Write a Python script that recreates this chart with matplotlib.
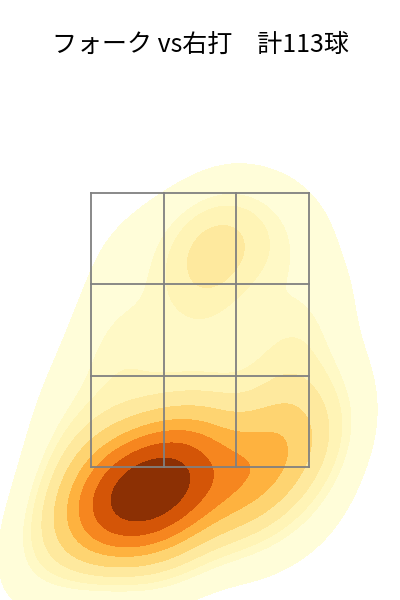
import matplotlib
matplotlib.use("Agg")
import matplotlib.pyplot as plt
import seaborn as sns
import numpy as np

# pitch locations (feet from plate center, height in feet) and counts
plate_x = [-0.609, -0.381, -0.190, -0.495, -0.267, -0.724,
           -0.838, 0.000, -0.076, -0.685, -0.381, -0.876,
           0.228, 0.457, 0.685, 0.381, 0.762, 0.914, 0.228,
           -0.952, -0.152, 0.533, -1.180, -1.295,
           -0.990, -0.762, -1.066,
           0.685, 0.685, 0.663, 1.028, 1.066,
           0.000, -0.381, -0.609, 0.305, 0.038,
           0.076, -0.038, 0.343, 0.724, -0.305, 0.990, 0.152, 0.533,
           -0.647, -0.724, -0.533]
plate_z = [1.350, 1.400, 1.440, 1.250, 1.290, 1.270,
           1.420, 1.490, 1.280, 1.090, 1.050, 1.160,
           1.442, 1.515, 1.588, 1.296, 1.369, 1.150, 1.113,
           0.894, 0.858, 0.931, 1.077, 0.712,
           1.624, 1.843, 2.062,
           1.843, 2.172, 2.464, 1.697, 2.135,
           1.843, 1.989, 2.354, 2.208, 2.464,
           2.996, 3.120, 3.084, 3.047, 3.230, 2.719, 3.412, 3.339,
           3.084, 2.646, 2.427]
counts = [6, 8, 6, 4, 4, 3,
          3, 4, 3, 3, 3, 2,
          4, 4, 3, 3, 1, 1, 1,
          1, 2, 1, 2, 1,
          2, 1, 1,
          3, 2, 2, 2, 1,
          2, 2, 2, 1, 2,
          4, 2, 2, 2, 1, 1, 1, 1,
          1, 1, 1]

zone_x = [-0.83, -0.83 / 3, 0.83 / 3, 0.83]
zone_z = [1.5, 1.5 + 2 / 3, 1.5 + 4 / 3, 3.5]
title = "フォーク vs右打　計113球"

fig = plt.figure(figsize=(4, 6), dpi=100)
ax = fig.add_axes([0, 0, 1, 520 / 600])
sns.kdeplot(x=plate_x, y=plate_z, weights=counts, fill=True, cmap="YlOrBr",
            levels=10, thresh=0.05, bw_adjust=0.85, ax=ax)
for xv in zone_x:
    ax.plot([xv, xv], [zone_z[0], zone_z[-1]], color="#808080", lw=1.3, zorder=5)
for zv in zone_z:
    ax.plot([zone_x[0], zone_x[-1]], [zv, zv], color="#808080", lw=1.3, zorder=5)
ax.set_xlim(-1.523, 1.523)
ax.set_ylim(0.529, 4.325)
ax.axis("off")
fig.text(0.5, 0.925, title, ha="center", va="center", fontsize=18,
         family=["Noto Sans CJK JP", "DejaVu Sans"])
fig.savefig("out.png", dpi=100)
